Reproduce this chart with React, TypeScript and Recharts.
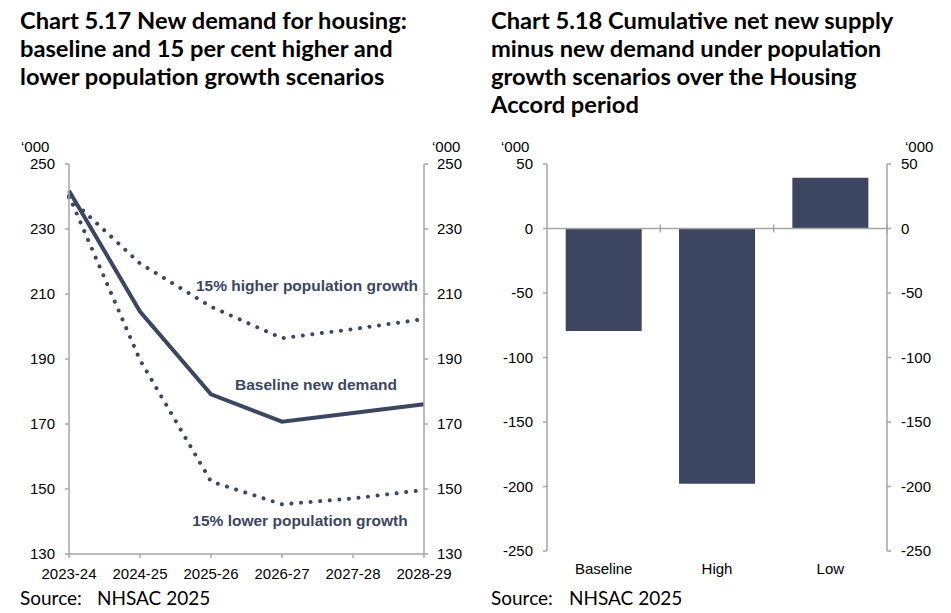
import React from 'react'
import {
  LineChart, Line, BarChart, Bar, XAxis, YAxis, ReferenceDot, ReferenceLine,
} from 'recharts'

const years = ['2023-24', '2024-25', '2025-26', '2026-27', '2027-28', '2028-29']
const baseline = [241.8, 204.6, 179.1, 170.7, 173.4, 176.1]
const higher = [239.7, 219.4, 206.1, 196.4, 199.2, 202.3]
const lower = [240.2, 189.7, 152.3, 145.3, 147.1, 149.7]
const demandTicks = [130, 150, 170, 190, 210, 230, 250]

const scenarios = ['Baseline', 'High', 'Low']
const netSupply = [-79.4, -197.8, 39.3]
const netTicks = [-250, -200, -150, -100, -50, 0, 50]

const NAVY = '#3c4660'
const GREY = '#a6a6a6'
const TICK_FONT = 'Liberation Sans, Arial, sans-serif'
const TITLE_FONT = 'Lato, sans-serif'

const lineData = years.map((y, i) => ({ year: y, baseline: baseline[i], higher: higher[i], lower: lower[i] }))
const barData = scenarios.map((s, i) => ({ name: s, value: netSupply[i] }))

const tick = { fontSize: 15, fill: '#000', fontFamily: TICK_FONT }
const lineLabel = { fontSize: 15.5, fill: NAVY, fontWeight: 700, fontFamily: TICK_FONT }

const titleStyle: React.CSSProperties = {
  position: 'absolute', top: 6, fontFamily: TITLE_FONT, fontWeight: 700,
  fontSize: 23.7, lineHeight: '28px', color: '#000', margin: 0,
}
const sourceStyle: React.CSSProperties = {
  position: 'absolute', top: 586, fontFamily: TITLE_FONT, fontSize: 19, color: '#000',
}
const unitStyle: React.CSSProperties = {
  position: 'absolute', top: 138, fontFamily: TICK_FONT, fontSize: 15, color: '#000',
}

// zero line with category separators
function ZeroLine(props: any) {
  const { x1, x2, y1 } = props
  const n = scenarios.length
  const w = (x2 - x1) / n
  const marks = []
  for (let i = 1; i <= n; i++) {
    const x = x1 + w * i
    marks.push(<line key={i} x1={x} x2={x} y1={y1 - 4} y2={y1 + 4} stroke={GREY} strokeWidth={1.5} />)
  }
  return (
    <g>
      <line x1={x1} x2={x2} y1={y1} y2={y1} stroke={GREY} strokeWidth={1.5} />
      {marks}
    </g>
  )
}

export default function App() {
  return (
    <div style={{ position: 'absolute', left: 0, top: 0, width: 951, height: 613, background: '#fff' }}>
      <div style={{ ...titleStyle, left: 20 }}>
        Chart 5.17 New demand for housing:<br />baseline and 15 per cent higher and<br />lower population growth scenarios
      </div>
      <div style={{ ...titleStyle, left: 491 }}>
        Chart 5.18 Cumulative net new supply<br />minus new demand under population<br />growth scenarios over the Housing<br />Accord period
      </div>

      <span style={{ ...unitStyle, left: 21 }}>‘000</span>
      <span style={{ ...unitStyle, left: 432 }}>‘000</span>
      <span style={{ ...unitStyle, left: 501 }}>‘000</span>
      <span style={{ ...unitStyle, left: 905 }}>‘000</span>

      <div style={{ position: 'absolute', left: 0, top: 140 }}>
        <LineChart width={470} height={444} data={lineData} margin={{ top: 24, right: 0, bottom: 0, left: 0 }}>
          <XAxis dataKey="year" height={30} padding={{ left: 0, right: 0 }} stroke={GREY} strokeWidth={1.5}
            tickSize={4} tickMargin={10} tick={tick} interval={0} />
          <YAxis yAxisId="l" type="number" width={69} domain={[130, 250]} ticks={demandTicks} stroke={GREY}
            strokeWidth={1.5} tickSize={4} tickMargin={10} tick={tick} allowDataOverflow />
          <YAxis yAxisId="r" type="number" orientation="right" width={46} domain={[130, 250]} ticks={demandTicks}
            stroke={GREY} strokeWidth={1.5} tickSize={4} tickMargin={9} tick={tick} allowDataOverflow />
          <Line yAxisId="l" dataKey="higher" stroke={NAVY} strokeWidth={4} strokeDasharray="0.01 9.6"
            strokeLinecap="round" dot={false} isAnimationActive={false} />
          <Line yAxisId="l" dataKey="lower" stroke={NAVY} strokeWidth={4} strokeDasharray="0.01 9.6"
            strokeLinecap="round" dot={false} isAnimationActive={false} />
          <Line yAxisId="l" dataKey="baseline" stroke={NAVY} strokeWidth={4} dot={false} isAnimationActive={false} />
          <ReferenceDot yAxisId="l" x="2026-27" y={212.5} r={0} fill="none" stroke="none"
            label={{ value: '15% higher population growth', position: 'center', dx: 25, ...lineLabel }} />
          <ReferenceDot yAxisId="l" x="2026-27" y={182.3} r={0} fill="none" stroke="none"
            label={{ value: 'Baseline new demand', position: 'center', dx: 34, ...lineLabel }} />
          <ReferenceDot yAxisId="l" x="2026-27" y={140.2} r={0} fill="none" stroke="none"
            label={{ value: '15% lower population growth', position: 'center', dx: 18, ...lineLabel }} />
        </LineChart>
      </div>

      <div style={{ position: 'absolute', left: 480, top: 140 }}>
        <BarChart width={467} height={441} data={barData} barCategoryGap="16.5%"
          margin={{ top: 24, right: 0, bottom: 0, left: 0 }}>
          <XAxis dataKey="name" height={30} axisLine={false} tickLine={false} tickSize={0} tickMargin={12}
            tick={tick} interval={0} />
          <YAxis yAxisId="l" type="number" width={67} domain={[-250, 50]} ticks={netTicks} stroke={GREY}
            strokeWidth={1.5} tickSize={4} tickMargin={10} tick={tick} allowDataOverflow />
          <YAxis yAxisId="r" type="number" orientation="right" width={60} domain={[-250, 50]} ticks={netTicks}
            stroke={GREY} strokeWidth={1.5} tickSize={4} tickMargin={10} tick={tick} allowDataOverflow />
          <Bar yAxisId="l" dataKey="value" fill={NAVY} isAnimationActive={false} />
          <ReferenceLine yAxisId="l" y={0} shape={ZeroLine} />
        </BarChart>
      </div>

      <span style={{ ...sourceStyle, left: 20 }}>Source:</span>
      <span style={{ ...sourceStyle, left: 97 }}>NHSAC 2025</span>
      <span style={{ ...sourceStyle, left: 491 }}>Source:</span>
      <span style={{ ...sourceStyle, left: 569 }}>NHSAC 2025</span>
    </div>
  )
}
